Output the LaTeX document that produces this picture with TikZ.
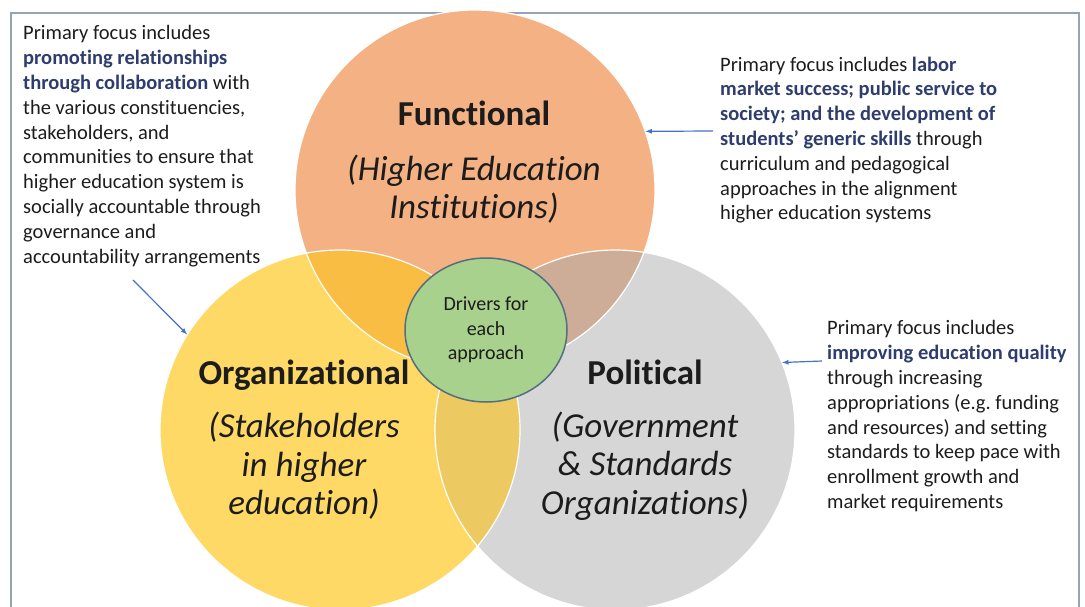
\documentclass[tikz,border=0pt]{standalone}
\usepackage{fontspec}
\setmainfont{Carlito}[Ligatures={TeX,NoCommon}]
\usetikzlibrary{positioning,shapes.geometric}
\definecolor{peach}{RGB}{244,177,131}
\definecolor{sand}{RGB}{255,217,102}
\definecolor{silver}{RGB}{214,214,214}
\definecolor{amber}{RGB}{248,189,66}
\definecolor{ochre}{RGB}{237,201,98}
\definecolor{taupe}{RGB}{206,173,152}
\definecolor{sage}{RGB}{169,209,142}
\definecolor{slate}{RGB}{84,110,128}
\definecolor{navy}{RGB}{46,61,110}
\definecolor{arrowblue}{RGB}{68,114,196}
\definecolor{framegray}{RGB}{150,163,180}
\definecolor{ink}{RGB}{28,28,28}
\newcommand{\hl}[1]{\textbf{\textcolor{navy}{#1}}}

\begin{document}
\begin{tikzpicture}[x=1pt,y=-1pt]

		\tikzset{
		    venn/.style={circle, minimum size=360pt, inner sep=0pt, fill=#1},
		    title/.style={font=\fontsize{35}{39}\selectfont\bfseries, text=ink},
		    subtitle/.style={font=\fontsize{35}{38.5}\selectfont\itshape, text=ink, align=center},
		    note/.style={font=\fontsize{20.5}{24.8}\selectfont, text=ink, align=left, inner sep=0pt, anchor=north west},
		    arrowline/.style={arrowblue, line width=1.2pt, -latex}
		}

		\useasboundingbox (0,0) rectangle (1085,606);

		% frame round the slide

		\begin{scope}
			\clip (0,0) rectangle (1085,606);
			\draw[framegray, line width=2pt] (11,620) |- (1079,13) -- (1079,620);
		\end{scope}

		% the three sets

		\node[venn=peach] (func) at (475,190) {};
		\node[venn=sand] (org) at (340,430) {};
		\node[venn=silver] (pol) at (615,430) {};

		% overlaps

		\begin{scope}
			\clip (func.center) circle (180pt);
			\fill[amber] (org.center) circle (180pt);
			\fill[taupe] (pol.center) circle (180pt);
		\end{scope}

		\begin{scope}
			\clip (org.center) circle (180pt);
			\fill[ochre] (pol.center) circle (180pt);
		\end{scope}

		\foreach \c in {func,org,pol}
			\draw[white, line width=1.2pt] (\c.center) circle (180pt);

		% centre ellipse

		\node[ellipse, minimum width=162pt, minimum height=144pt, fill=sage, draw=slate, line width=1.5pt,
		      font=\fontsize{20}{24.5}\selectfont, align=center, text=ink] (drivers) at (486,330) {Drivers for\\each\\approach};

		% labels in the circles

		\node[title, anchor=base] (ftitle) at (474,125) {Functional};
		\node[subtitle] (fsub) at (474,189) {(Higher Education\\Institutions)};

		\node[title, anchor=base] (otitle) at (304,384) {Organizational};
		\node[subtitle] (osub) at (304,466) {(Stakeholders\\in higher\\education)};

		\node[title, anchor=base] (ptitle) at (645,384) {Political};
		\node[subtitle] (psub) at (645,466) {(Government\\\& Standards\\Organizations)};

		% notes and arrows

		\node[note] (orgnote) at (23,25.5) {Primary focus includes\\
			\hl{promoting relationships}\\
			\hl{through collaboration} with\\
			the various constituencies,\\
			stakeholders, and\\
			communities to ensure that\\
			higher education system is\\
			socially accountable through\\
			governance and\\
			accountability arrangements};

		\node[note] (funcnote) at (720,56.5) {Primary focus includes \hl{labor}\\
			\hl{market success; public service to}\\
			\hl{society; and the development of}\\
			\hl{students' generic skills} through\\
			curriculum and pedagogical\\
			approaches in the alignment\\
			higher education systems};

		\node[note] (polnote) at (827,320.5) {Primary focus includes\\
			\hl{improving education quality}\\
			through increasing\\
			appropriations (e.g.\ funding\\
			and resources) and setting\\
			standards to keep pace with\\
			enrollment growth and\\
			market requirements};

		\coordinate (otail) at (133,280);
		\coordinate (ftail) at (713,131);
		\coordinate (ptail) at (822,361);

		\draw[arrowline] (otail) -- (org.148);
		\draw[arrowline] (ftail) -- (func.19.5);
		\draw[arrowline] (ptail) -- (pol.22.5);

\end{tikzpicture}
\end{document}
